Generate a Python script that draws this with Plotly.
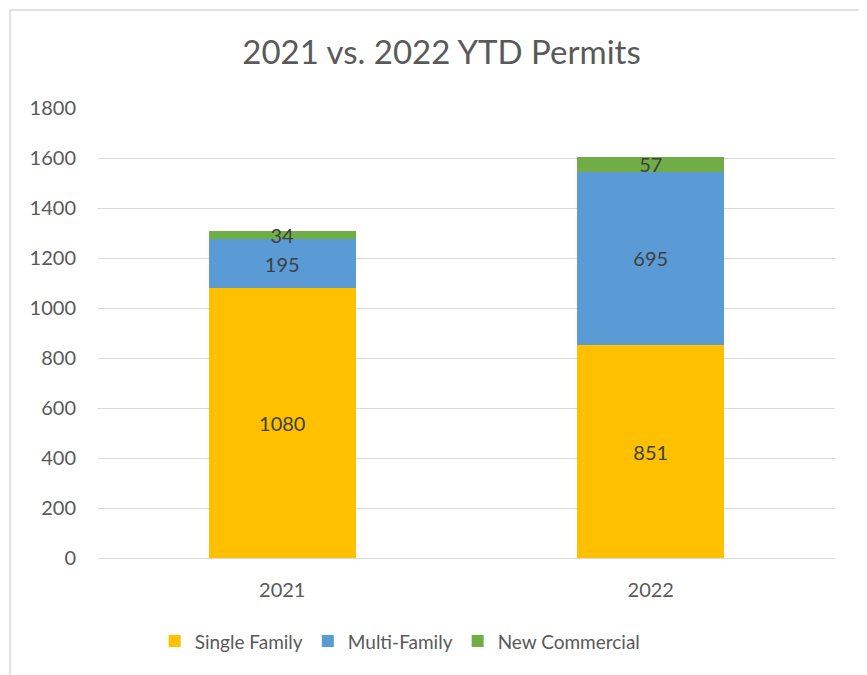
import plotly.graph_objects as go

years = ["2021", "2022"]
single_family = [1080, 851]
multi_family = [195, 695]
new_commercial = [34, 57]

FONT = "Lato"
TXT = "#595959"

fig = go.Figure()
for name, vals, color in [
    ("Single Family", single_family, "#FFC000"),
    ("Multi-Family", multi_family, "#5B9BD5"),
    ("New Commercial", new_commercial, "#70AD47"),
]:
    fig.add_trace(go.Bar(
        x=years, y=vals, name=name, marker=dict(color=color, line=dict(width=0)),
        text=[str(v) for v in vals], textposition="inside", insidetextanchor="middle",
        textfont=dict(family=FONT, size=20, color="#404040"),
        textangle=0, hoverinfo="skip",
    ))

fig.update_layout(
    barmode="stack", bargap=0.6,
    width=867, height=675,
    margin=dict(l=90, r=40, t=100, b=125),
    paper_bgcolor="white", plot_bgcolor="white",
    font=dict(family=FONT, color=TXT),
    title=dict(text="2021 vs. 2022 YTD Permits", x=0.5, xanchor="center",
               y=1 - 44 / 675, yanchor="middle",
               font=dict(family=FONT, size=33, color=TXT)),
    uniformtext=dict(minsize=20, mode="show"),
    showlegend=True,
    legend=dict(orientation="h", x=0.41, xanchor="center", y=-0.185, yanchor="middle",
                font=dict(family=FONT, size=19, color=TXT), traceorder="normal",
                itemsizing="constant", itemwidth=30),
    xaxis=dict(showline=True, linecolor="#D9D9D9", linewidth=1, ticks="",
               tickfont=dict(family=FONT, size=20, color=TXT), ticklabelstandoff=14),
    yaxis=dict(range=[0, 1800], dtick=200, showgrid=True, gridcolor="#D9D9D9",
               gridwidth=1, zeroline=False, ticks="",
               tickfont=dict(family=FONT, size=20, color=TXT), ticklabelstandoff=21),
    shapes=[dict(type="rect", xref="paper", yref="paper",
                 x0=-0.1194, x1=1.038, y0=-0.28, y1=1.218,
                 line=dict(color="#D9D9D9", width=1.5), fillcolor="rgba(0,0,0,0)",
                 layer="below")],
)

fig.write_html("out.html")
